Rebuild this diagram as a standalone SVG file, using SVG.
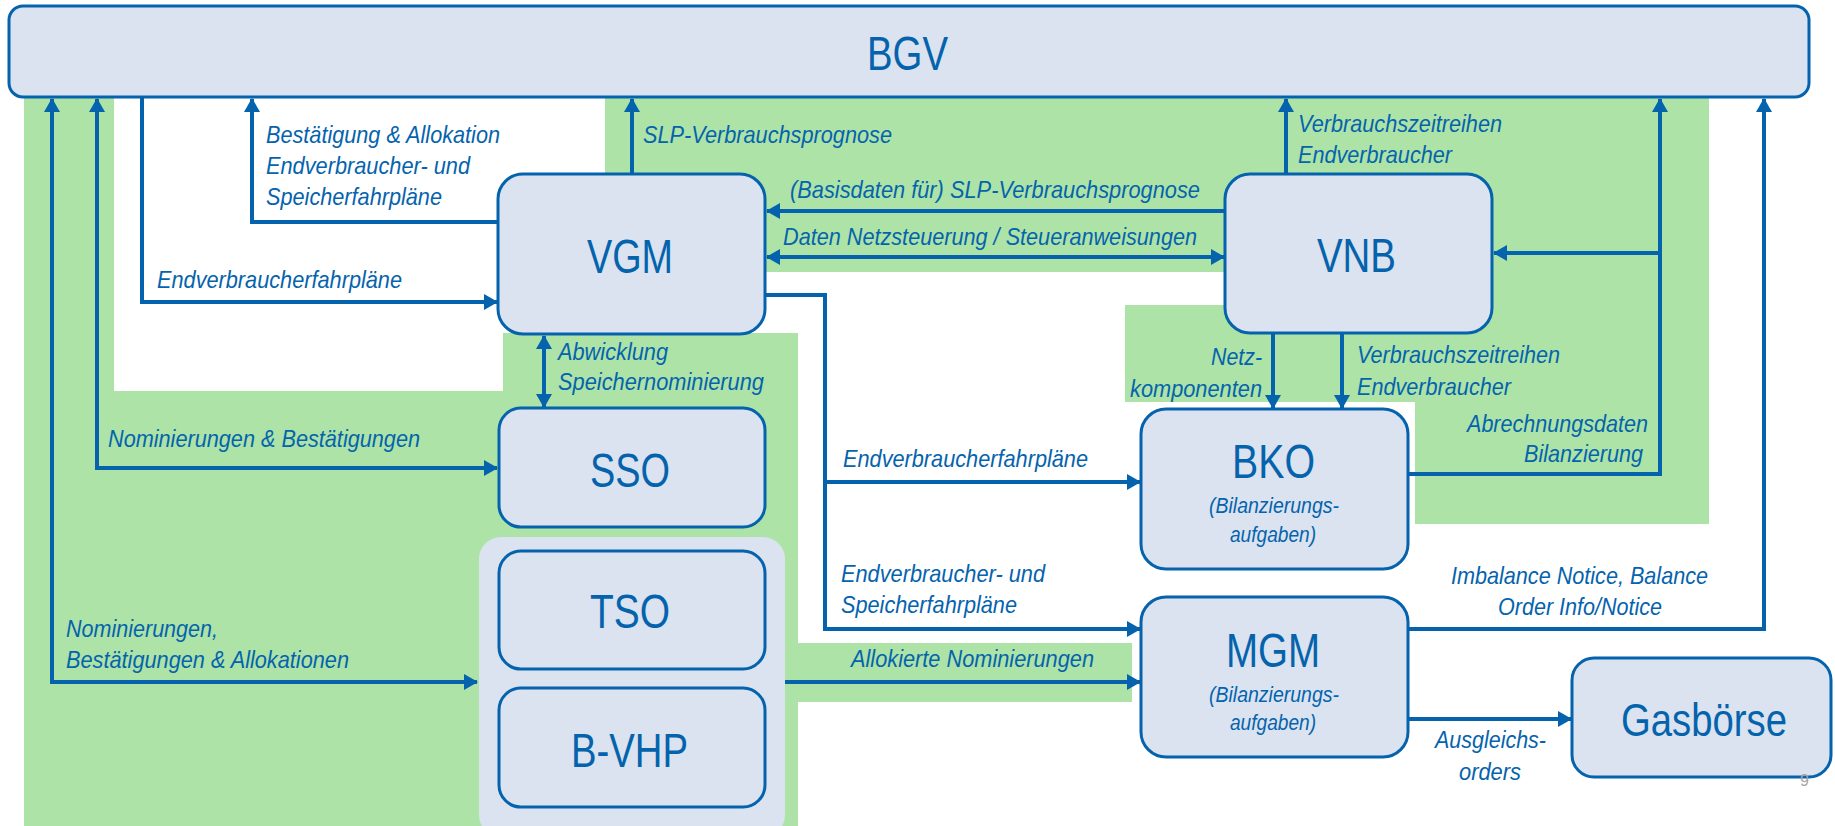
<svg xmlns="http://www.w3.org/2000/svg" width="1835" height="826" viewBox="0 0 1835 826">
<style>
.node{fill:#dae3ef;stroke:#0563ad;stroke-width:3}
.title{font-family:"Liberation Sans",Arial,sans-serif;font-size:48px;fill:#0563ad}
.sub{font-family:"Liberation Sans",Arial,sans-serif;font-size:22px;font-style:italic;fill:#0563ad}
.lbl{font-family:"Liberation Sans",Arial,sans-serif;font-size:24px;font-style:italic;fill:#0563ad}
.c{fill:none;stroke:#0563ad;stroke-width:4}
.green{fill:#ade3a7}
</style>
<defs>
<marker id="ah" viewBox="0 0 14 16" refX="13" refY="8" markerWidth="14" markerHeight="16" markerUnits="userSpaceOnUse" orient="auto-start-reverse">
<path d="M0,0 L14,8 L0,16 z" fill="#0563ad"/>
</marker>
</defs>
<rect width="1835" height="826" fill="#ffffff"/>
<g id="background">
<path class="green" d="M24,97 H114 V391 H503 V333 H798 V643 H1132 V702 H798 V826 H24 Z"/>
<path class="green" d="M605,97 H1709 V524 H1415 V402 H1125 V305 H1240 V272 H605 Z"/>
<rect x="479" y="537" width="306" height="300" rx="22" fill="#dae3ef"/>
</g>
<g id="connectors">
<path class="c" d="M52,99 V682 H477" marker-start="url(#ah)" marker-end="url(#ah)"/>
<path class="c" d="M97,99 V468 H497" marker-start="url(#ah)" marker-end="url(#ah)"/>
<path class="c" d="M142,97 V302 H497" marker-end="url(#ah)"/>
<path class="c" d="M498,222 H252 V99" marker-end="url(#ah)"/>
<path class="c" d="M632,174 V99" marker-end="url(#ah)"/>
<path class="c" d="M544,336 V407" marker-start="url(#ah)" marker-end="url(#ah)"/>
<path class="c" d="M1225,211 H767" marker-end="url(#ah)"/>
<path class="c" d="M767,257 H1224" marker-start="url(#ah)" marker-end="url(#ah)"/>
<path class="c" d="M1286,174 V99" marker-end="url(#ah)"/>
<path class="c" d="M1408,474 H1660 V99" marker-end="url(#ah)"/>
<path class="c" d="M1660,253 H1494" marker-end="url(#ah)"/>
<path class="c" d="M1408,629 H1764 V99" marker-end="url(#ah)"/>
<path class="c" d="M765,295 H825 V629 H1140" marker-end="url(#ah)"/>
<path class="c" d="M825,482 H1140" marker-end="url(#ah)"/>
<path class="c" d="M785,682 H1140" marker-end="url(#ah)"/>
<path class="c" d="M1273,334 V408" marker-end="url(#ah)"/>
<path class="c" d="M1342,334 V408" marker-end="url(#ah)"/>
<path class="c" d="M1408,719 H1571" marker-end="url(#ah)"/>
</g>
<g id="labels">
<text class="lbl" x="266" y="143" textLength="234" lengthAdjust="spacingAndGlyphs">Bestätigung &amp; Allokation</text>
<text class="lbl" x="266" y="174" textLength="204" lengthAdjust="spacingAndGlyphs">Endverbraucher- und</text>
<text class="lbl" x="266" y="205" textLength="176" lengthAdjust="spacingAndGlyphs">Speicherfahrpläne</text>
<text class="lbl" x="157" y="288" textLength="245" lengthAdjust="spacingAndGlyphs">Endverbraucherfahrpläne</text>
<text class="lbl" x="643" y="143" textLength="249" lengthAdjust="spacingAndGlyphs">SLP-Verbrauchsprognose</text>
<text class="lbl" x="790" y="198" textLength="410" lengthAdjust="spacingAndGlyphs">(Basisdaten für) SLP-Verbrauchsprognose</text>
<text class="lbl" x="783" y="245" textLength="414" lengthAdjust="spacingAndGlyphs">Daten Netzsteuerung / Steueranweisungen</text>
<text class="lbl" x="1298" y="132" textLength="204" lengthAdjust="spacingAndGlyphs">Verbrauchszeitreihen</text>
<text class="lbl" x="1298" y="163" textLength="154" lengthAdjust="spacingAndGlyphs">Endverbraucher</text>
<text class="lbl" x="558" y="360" textLength="110" lengthAdjust="spacingAndGlyphs">Abwicklung</text>
<text class="lbl" x="558" y="390" textLength="206" lengthAdjust="spacingAndGlyphs">Speichernominierung</text>
<text class="lbl" x="108" y="447" textLength="312" lengthAdjust="spacingAndGlyphs">Nominierungen &amp; Bestätigungen</text>
<text class="lbl" x="66" y="637" textLength="152" lengthAdjust="spacingAndGlyphs">Nominierungen,</text>
<text class="lbl" x="66" y="668" textLength="283" lengthAdjust="spacingAndGlyphs">Bestätigungen &amp; Allokationen</text>
<text class="lbl" x="843" y="467" textLength="245" lengthAdjust="spacingAndGlyphs">Endverbraucherfahrpläne</text>
<text class="lbl" x="841" y="582" textLength="204" lengthAdjust="spacingAndGlyphs">Endverbraucher- und</text>
<text class="lbl" x="841" y="613" textLength="176" lengthAdjust="spacingAndGlyphs">Speicherfahrpläne</text>
<text class="lbl" x="851" y="667" textLength="243" lengthAdjust="spacingAndGlyphs">Allokierte Nominierungen</text>
<text class="lbl" x="1211" y="365" textLength="51" lengthAdjust="spacingAndGlyphs">Netz-</text>
<text class="lbl" x="1130" y="397" textLength="132" lengthAdjust="spacingAndGlyphs">komponenten</text>
<text class="lbl" x="1357" y="363" textLength="203" lengthAdjust="spacingAndGlyphs">Verbrauchszeitreihen</text>
<text class="lbl" x="1357" y="395" textLength="154" lengthAdjust="spacingAndGlyphs">Endverbraucher</text>
<text class="lbl" x="1467" y="432" textLength="181" lengthAdjust="spacingAndGlyphs">Abrechnungsdaten</text>
<text class="lbl" x="1524" y="462" textLength="119" lengthAdjust="spacingAndGlyphs">Bilanzierung</text>
<text class="lbl" x="1451" y="584" textLength="257" lengthAdjust="spacingAndGlyphs">Imbalance Notice, Balance</text>
<text class="lbl" x="1498" y="615" textLength="164" lengthAdjust="spacingAndGlyphs">Order Info/Notice</text>
<text class="lbl" x="1435" y="748" textLength="111" lengthAdjust="spacingAndGlyphs">Ausgleichs-</text>
<text class="lbl" x="1459" y="780" textLength="62" lengthAdjust="spacingAndGlyphs">orders</text>
</g>
<g id="BGV">
<rect class="node" x="9" y="6" width="1800" height="91" rx="14"/>
<text class="title" x="867" y="70" textLength="81" lengthAdjust="spacingAndGlyphs">BGV</text>
</g>
<g id="VGM">
<rect class="node" x="498" y="174" width="267" height="160" rx="25"/>
<text class="title" x="587" y="273" textLength="86" lengthAdjust="spacingAndGlyphs">VGM</text>
</g>
<g id="VNB">
<rect class="node" x="1225" y="174" width="267" height="159" rx="25"/>
<text class="title" x="1317" y="272" textLength="79" lengthAdjust="spacingAndGlyphs">VNB</text>
</g>
<g id="SSO">
<rect class="node" x="499" y="408" width="266" height="119" rx="22"/>
<text class="title" x="590" y="487" textLength="80" lengthAdjust="spacingAndGlyphs">SSO</text>
</g>
<g id="TSO">
<rect class="node" x="499" y="551" width="266" height="118" rx="22"/>
<text class="title" x="590" y="628" textLength="80" lengthAdjust="spacingAndGlyphs">TSO</text>
</g>
<g id="B-VHP">
<rect class="node" x="499" y="688" width="266" height="119" rx="22"/>
<text class="title" x="571" y="767" textLength="117" lengthAdjust="spacingAndGlyphs">B-VHP</text>
</g>
<g id="BKO">
<rect class="node" x="1141" y="409" width="267" height="160" rx="25"/>
<text class="title" x="1232" y="478" textLength="83" lengthAdjust="spacingAndGlyphs">BKO</text>
<text class="sub" x="1209" y="513" textLength="130" lengthAdjust="spacingAndGlyphs">(Bilanzierungs-</text>
<text class="sub" x="1230" y="542" textLength="86" lengthAdjust="spacingAndGlyphs">aufgaben)</text>
</g>
<g id="MGM">
<rect class="node" x="1141" y="597" width="267" height="160" rx="25"/>
<text class="title" x="1226" y="667" textLength="94" lengthAdjust="spacingAndGlyphs">MGM</text>
<text class="sub" x="1209" y="702" textLength="130" lengthAdjust="spacingAndGlyphs">(Bilanzierungs-</text>
<text class="sub" x="1230" y="730" textLength="86" lengthAdjust="spacingAndGlyphs">aufgaben)</text>
</g>
<g id="Gasboerse">
<rect class="node" x="1572" y="658" width="259" height="119" rx="22"/>
<text class="title" x="1621" y="736" style="font-size:46px" textLength="166" lengthAdjust="spacingAndGlyphs">Gasbörse</text>
</g>
<text x="1800" y="786" font-family="Liberation Sans, Arial, sans-serif" font-size="16" fill="#a6a6a6">9</text>
</svg>
